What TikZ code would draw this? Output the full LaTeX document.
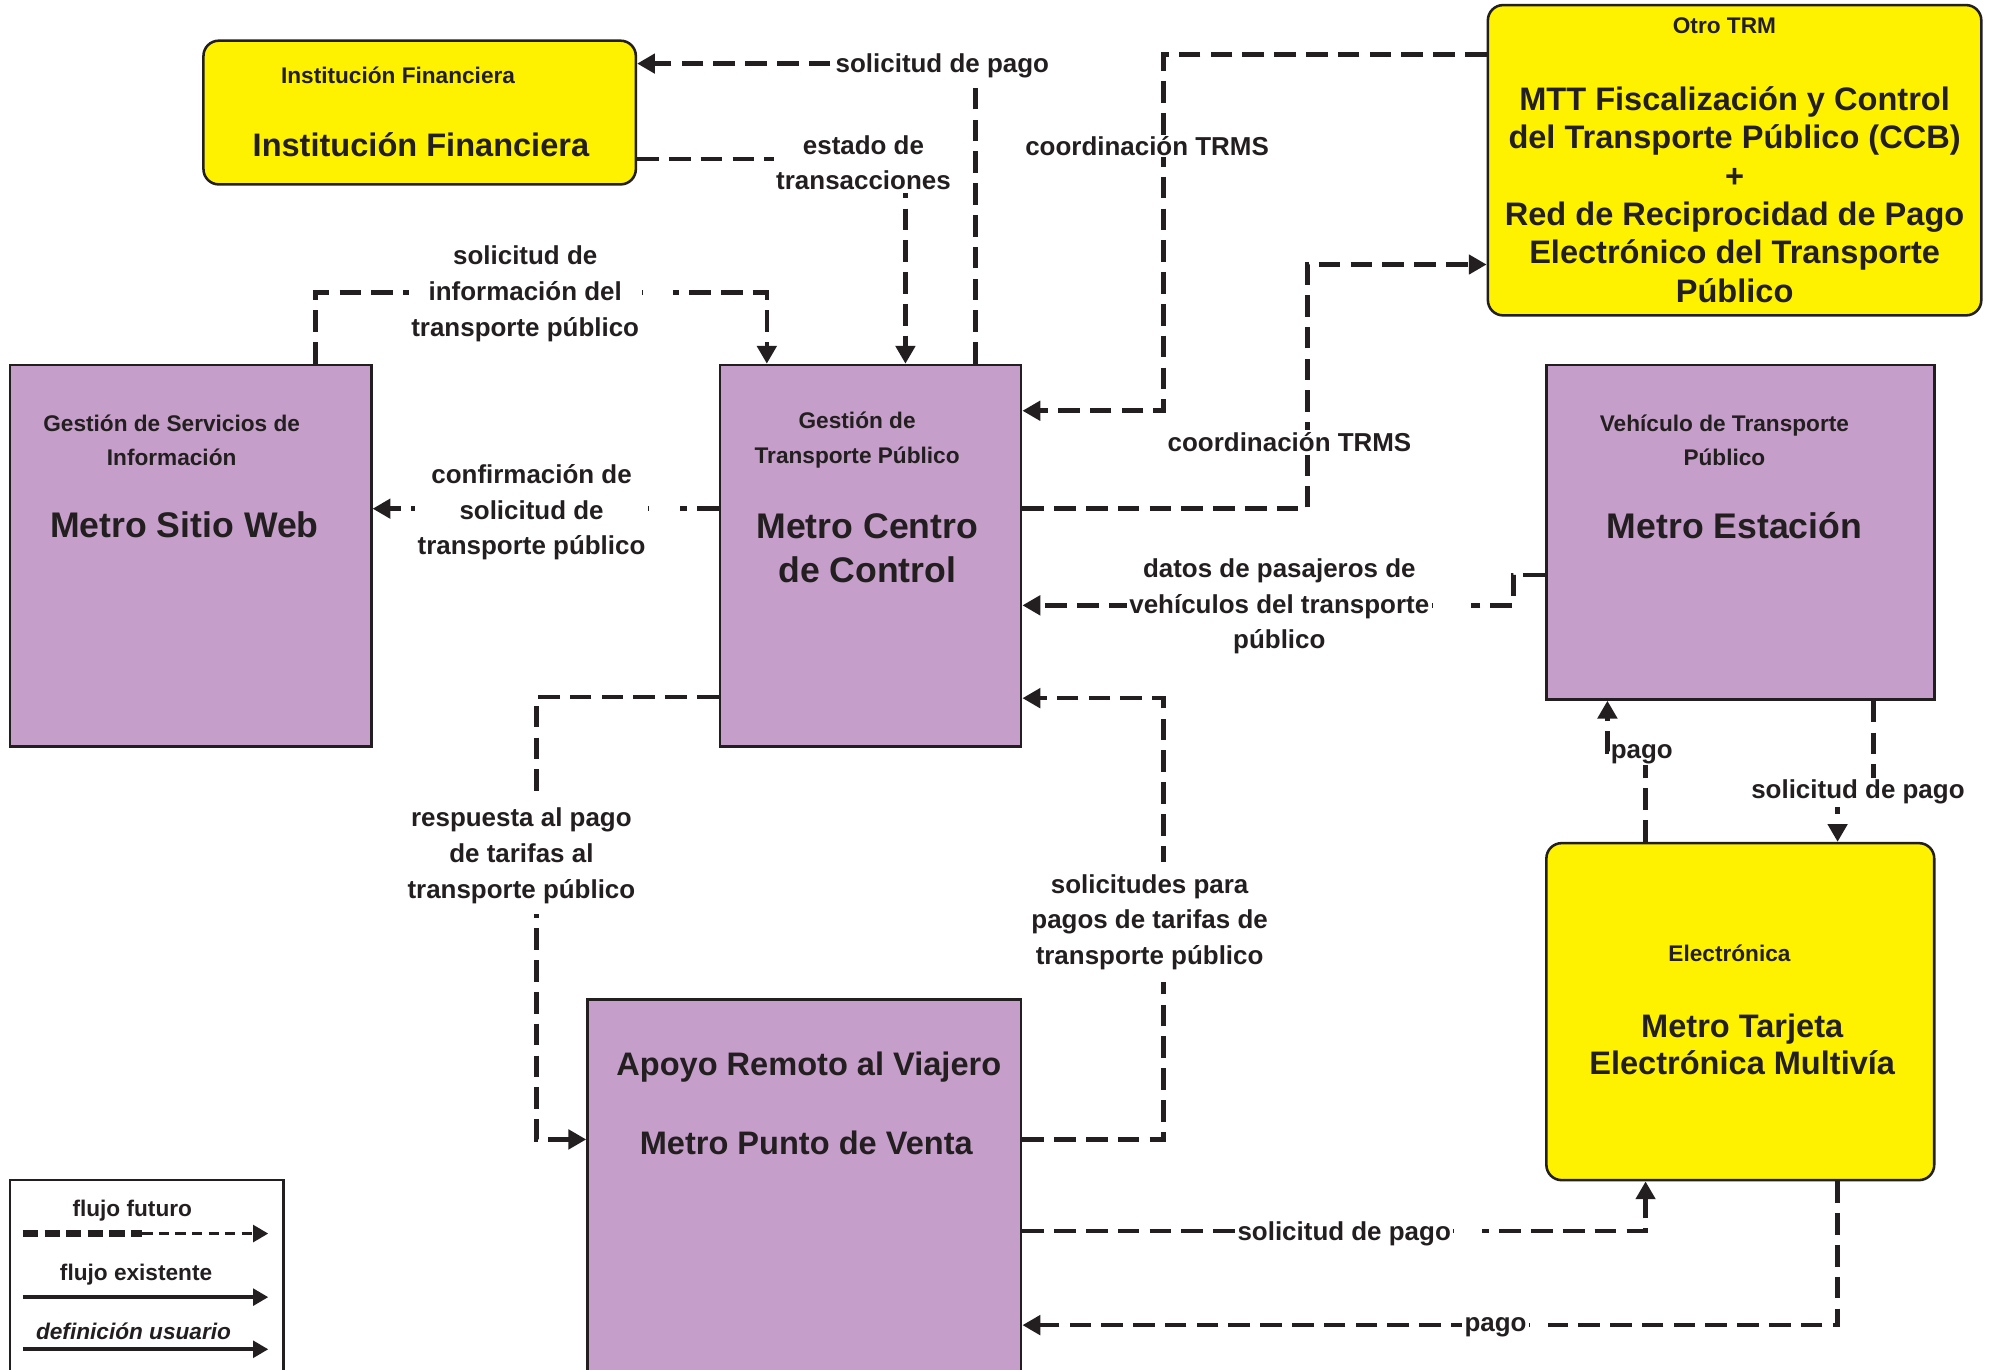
\documentclass[tikz,border=0pt]{standalone}
\usepackage{fontspec}
\setmainfont{Liberation Sans}
\usetikzlibrary{arrows.meta,calc}
\definecolor{ink}{HTML}{231F20}
\definecolor{lila}{HTML}{C59FC9}
\definecolor{amar}{HTML}{FFF200}
\tikzset{
  box/.style={draw=ink, line width=1pt, inner sep=0pt},
  pbox/.style={box, fill=lila},
  ybox/.style={box, fill=amar, rounded corners=6pt},
  big/.style={font=\bfseries\fontsize{14}{17.5}\selectfont, text=ink, align=center, inner sep=0pt},
  bigy/.style={font=\bfseries\fontsize{12.8}{15.1}\selectfont, text=ink, align=center, inner sep=0pt},
  small/.style={font=\bfseries\fontsize{8.9}{13.5}\selectfont, text=ink, align=center, inner sep=0pt},
  lbl/.style={font=\bfseries\fontsize{10.2}{14}\selectfont, text=ink, align=center, fill=white, inner sep=1pt},
  gap/.style={fill=white, inner sep=0pt, minimum height=8pt, anchor=west},
  flow/.style={draw=ink, line width=1.8pt, dash pattern=on 8.5pt off 4pt, -{Triangle[length=7pt,width=7.5pt]}},
  legline/.style={draw=ink, line width=1.5pt, -{Triangle[length=6pt,width=6.5pt]}},
}
\begin{document}
\begin{tikzpicture}[x=0.5pt,y=-0.5pt]
\useasboundingbox (0,0) rectangle (1568,1077);
\fill[white] (0,0) rectangle (1568,1077);
\clip (0,0) rectangle (1568,1077);

% boxes
\node[ybox, minimum width=170pt, minimum height=56.5pt] (fin) at (330,88.5) {};
\node[ybox, minimum width=194pt, minimum height=122pt] (otro) at (1364,126) {};
\node[pbox, minimum width=142pt, minimum height=150pt] (web) at (150,437) {};
\node[pbox, minimum width=118.5pt, minimum height=150pt] (cc) at (684.5,437) {};
\node[pbox, minimum width=152.5pt, minimum height=131.5pt] (est) at (1368.5,418.5) {};
\node[ybox, minimum width=152.5pt, minimum height=132.5pt] (tar) at (1368.5,795.5) {};
\node[pbox, minimum width=170.5pt, minimum height=157pt] (apo) at (632.5,943) {};
\node[box, fill=white, minimum width=107.5pt, minimum height=86pt] (leg) at (115.5,1014) {};

% box texts
\node[small] (finh) at (313,59) {Institución Financiera};
\node[bigy] (fint) at (331,114) {Institución Financiera};
\node[small] (otroh) at (1356,20) {Otro TRM};
\node[bigy] (otrot) at (1364,153) {MTT Fiscalización y Control\\del Transporte Público (CCB)\\+\\Red de Reciprocidad de Pago\\Electrónico del Transporte\\Público};
\node[small] (webh) at (135,346) {Gestión de Servicios de\\Información};
\node[big] (webt) at (145,413) {Metro Sitio Web};
\node[small] (cch) at (674,346) {Gestión de\\Transporte Público};
\node[big] (cct) at (682,431) {Metro Centro\\de Control};
\node[small] (esth) at (1356,346) {Vehículo de Transporte\\Público};
\node[big] (estt) at (1364,413) {Metro Estación};
\node[small] (tarh) at (1360,750) {Electrónica};
\node[bigy, font=\bfseries\fontsize{12.8}{14.5}\selectfont] (tart) at (1370,821) {Metro Tarjeta\\Electrónica Multivía};
\node[bigy] (apot1) at (636,839) {Apoyo Remoto al Viajero};
\node[bigy] (apot2) at (634,899) {Metro Punto de Venta};

% connectors
\draw[flow] (cc.north -| 767,0) -- (767,50) -- (fin.east |- 0,50);
\node[lbl] (l1) at (741,52) {solicitud de pago};

\draw[flow] (fin.east |- 0,125) -- (712,125) -- (cc.north -| 712,0);
\node[lbl] (l2) at (679,128) {estado de\\transacciones};

\draw[flow] (otro.west |- 0,43) -- (915,43) -- (915,323) -- (cc.east |- 0,323);
\node[lbl, inner sep=0.3pt] (l3) at (902,115) {coordinación TRMS};

\draw[flow] (cc.east |- 0,400) -- (1028,400) -- (1028,208) -- (otro.west |- 0,208);
\node[lbl] (l4) at (1014,348) {coordinación TRMS};

\draw[flow] (web.north -| 248,0) -- (248,230) -- (603,230) -- (cc.north -| 603,0);
\node[lbl] (l5) at (413,231) {solicitud de\\información del\\transporte público};
\node[gap, minimum width=12pt] (g5) at (l5.east) {};

\draw[flow] (cc.west |- 0,400) -- (web.east |- 0,400);
\node[lbl] (l6) at (418,403) {confirmación de\\solicitud de\\transporte público};
\node[gap, minimum width=12pt] (g6) at (l6.east) {};

\draw[flow] (est.west |- 0,452) -- (1190,452) -- (1190,476) -- (cc.east |- 0,476);
\node[lbl] (l7) at (1006,477) {datos de pasajeros de\\vehículos del transporte\\público};
\node[gap, minimum width=15pt] (g7) at (l7.east) {};

\draw[flow] (cc.west |- 0,548) -- (422,548) -- (422,896) -- (apo.west |- 0,896);
\node[lbl, inner ysep=4pt] (l8) at (410,673) {respuesta al pago\\de tarifas al\\transporte público};

\draw[flow] (apo.east |- 0,896) -- (915,896) -- (915,549) -- (cc.east |- 0,549);
\node[lbl, inner ysep=5pt] (l9) at (904,725) {solicitudes para\\pagos de tarifas de\\transporte público};

\draw[flow] (tar.north -| 1294,0) -- (1294,591) -- (1264,591) -- (est.south -| 1264,0);
\node[lbl, inner sep=0.5pt] (l10) at (1291,593) {pago};

\draw[flow] (est.south -| 1473,0) -- (1473,620) -- (1445,620) -- (tar.north -| 1445,0);
\node[lbl] (l11) at (1461,623) {solicitud de pago};

\draw[flow] (apo.east |- 0,968) -- (1294,968) -- (tar.south -| 1294,0);
\node[lbl, inner xsep=1pt] (l12) at (1057,970) {solicitud de pago};
\node[gap, minimum width=11pt] (g12) at (l12.east) {};

\draw[flow] (tar.south -| 1445,0) -- (1445,1042) -- (apo.east |- 0,1042);
\node[lbl, inner xsep=1pt] (l13) at (1176,1044) {pago};
\node[gap, minimum width=7pt] (g13) at (l13.east) {};

% legend
\node[small] (lg1) at (104,952) {flujo futuro};
\coordinate (lfa) at (18,970);
\coordinate (lfm) at (112,970);
\coordinate (lfb) at (211,970);
\draw[ink, line width=2.5pt, dash pattern=on 6pt off 2.5pt] (lfa) -- (lfm);
\draw[ink, line width=1.5pt, dash pattern=on 4pt off 2.5pt, -{Triangle[length=6pt,width=6.5pt]}] (lfm) -- (lfb);
\node[small] (lg2) at (107,1002) {flujo existente};
\coordinate (lea) at (18,1020);
\coordinate (leb) at (211,1020);
\draw[legline] (lea) -- (leb);
\node[small, font=\bfseries\itshape\fontsize{8.9}{13.5}\selectfont] (lg3) at (105,1047) {definición usuario};
\coordinate (lua) at (18,1061);
\coordinate (lub) at (211,1061);
\draw[legline] (lua) -- (lub);
\end{tikzpicture}
\end{document}
